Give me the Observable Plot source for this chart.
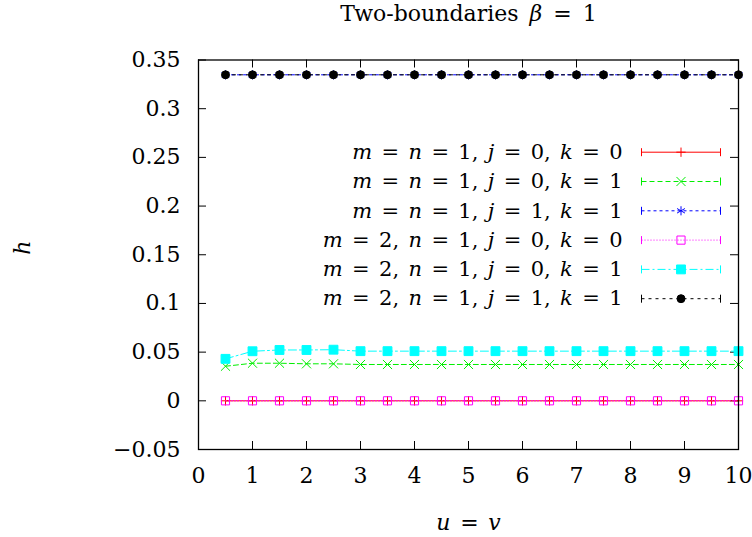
<!DOCTYPE html>
<html>
<head>
<meta charset="utf-8">
<script src="https://cdn.jsdelivr.net/npm/d3@7"></script>
<script src="https://cdn.jsdelivr.net/npm/@observablehq/plot@0.6"></script>
<style>
  html, body { margin: 0; padding: 0; background: #fff; }
  svg { display: block; }
</style>
</head>
<body>
<div id="chart"></div>
<script>
// ---------- data ----------
const uValues = [0.5, 1, 1.5, 2, 2.5, 3, 3.5, 4, 4.5, 5, 5.5, 6, 6.5, 7, 7.5, 8, 8.5, 9, 9.5, 10];
const hS1 = [0, 0, 0, 0, 0, 0, 0, 0, 0, 0, 0, 0, 0, 0, 0, 0, 0, 0, 0, 0];
const hS2 = [0.0355, 0.0386, 0.0386, 0.038, 0.038, 0.0373, 0.0373, 0.0373, 0.0373, 0.0373, 0.0373, 0.0373, 0.0373, 0.0373, 0.0373, 0.0373, 0.0373, 0.0373, 0.0373, 0.0373];
const hS3 = [0.3348, 0.3348, 0.3348, 0.3348, 0.3348, 0.3348, 0.3348, 0.3348, 0.3348, 0.3348, 0.3348, 0.3348, 0.3348, 0.3348, 0.3348, 0.3348, 0.3348, 0.3348, 0.3348, 0.3348];
const hS4 = [0, 0, 0, 0, 0, 0, 0, 0, 0, 0, 0, 0, 0, 0, 0, 0, 0, 0, 0, 0];
const hS5 = [0.0431, 0.0509, 0.0522, 0.0522, 0.0525, 0.051, 0.051, 0.051, 0.051, 0.051, 0.051, 0.051, 0.051, 0.051, 0.051, 0.051, 0.051, 0.051, 0.051, 0.051];
const hS6 = [0.3348, 0.3348, 0.3348, 0.3348, 0.3348, 0.3348, 0.3348, 0.3348, 0.3348, 0.3348, 0.3348, 0.3348, 0.3348, 0.3348, 0.3348, 0.3348, 0.3348, 0.3348, 0.3348, 0.3348];

const seriesNames = [
  "m = n = 1, j = 0, k = 0",
  "m = n = 1, j = 0, k = 1",
  "m = n = 1, j = 1, k = 1",
  "m = 2, n = 1, j = 0, k = 0",
  "m = 2, n = 1, j = 0, k = 1",
  "m = 2, n = 1, j = 1, k = 1"
];
const seriesValues = [hS1, hS2, hS3, hS4, hS5, hS6];

const xTicks = [0, 1, 2, 3, 4, 5, 6, 7, 8, 9, 10];
const xTickLabels = ["0", "1", "2", "3", "4", "5", "6", "7", "8", "9", "10"];
const yTicks = [-0.05, 0, 0.05, 0.1, 0.15, 0.2, 0.25, 0.3, 0.35];
const yTickLabels = ["\u22120.05", "0", "0.05", "0.1", "0.15", "0.2", "0.25", "0.3", "0.35"];

const titleText = "Two-boundaries \u03b2 = 1";
const xLabel = "u = v";
const yLabel = "h";

// ---------- styles ----------
const colors = ["#ff0000", "#00ee00", "#0000ff", "#ff00ff", "#00ffff", "#000000"];
const dashes = [null, "5,3", "3,3", "1,2", "8,3,2,3", "3,4"];
const symbols = ["plus", "times", "asterisk", "square", "square", "circle"];
const symFill = ["none", "none", "none", "none", "#00ffff", "#000000"];
const symR = [3.1, 4.2, 4.3, 4.6, 5.0, 4.0];

// ---------- layout ----------
const W = 752, H = 537;
const mL = 198, mR = 14, mT = 59.5, mB = 88;
const innerH = H - mT - mB;
const innerW = W - mL - mR;
const yDomain = [-0.05, 0.35];
const xDomain = [0, 10];
const pxPerY = innerH / (yDomain[1] - yDomain[0]);
const pxPerX = innerW / (xDomain[1] - xDomain[0]);
const tickLen = 8;
const font = "DejaVu Serif";

// legend layout (in data units derived from pixel layout)
const legTop = yDomain[1] - (151.7 - mT) / pxPerY;
const legStep = 29.3 / pxPerY;
const legX1 = (641 - mL) / pxPerX, legX2 = (720 - mL) / pxPerX, legXm = (680.5 - mL) / pxPerX, legXt = (622 - mL) / pxPerX;

const tickSymbol = { draw(ctx, size) { ctx.moveTo(0, -4); ctx.lineTo(0, 4); } };

const marks = [];
// inward ticks on all four sides
marks.push(Plot.tickX(xTicks, {x: d => d, insetTop: innerH - tickLen, stroke: "#000", strokeWidth: 1}));
marks.push(Plot.tickX(xTicks, {x: d => d, insetBottom: innerH - tickLen, stroke: "#000", strokeWidth: 1}));
marks.push(Plot.tickY(yTicks, {y: d => d, insetRight: innerW - tickLen, stroke: "#000", strokeWidth: 1}));
marks.push(Plot.tickY(yTicks, {y: d => d, insetLeft: innerW - tickLen, stroke: "#000", strokeWidth: 1}));

// tick labels
marks.push(Plot.text(xTicks, {x: d => d, frameAnchor: "bottom", lineAnchor: "middle", dy: 26, text: (d, i) => xTickLabels[i], fontSize: 22, fontFamily: font, fill: "#000"}));
marks.push(Plot.text(yTicks, {y: d => d, frameAnchor: "left", lineAnchor: "middle", dx: -18, textAnchor: "end", text: (d, i) => yTickLabels[i], fontSize: 22, fontFamily: font, fill: "#000"}));

// series
seriesValues.forEach((vals, s) => {
  const data = uValues.map((u, i) => ({u, h: vals[i]}));
  marks.push(Plot.line(data, {x: "u", y: "h", stroke: colors[s], strokeWidth: 1, strokeDasharray: dashes[s]}));
  marks.push(Plot.dot(data, {x: "u", y: "h", symbol: symbols[s], r: symR[s], stroke: colors[s], fill: symFill[s], strokeWidth: 1}));
});

// legend
seriesValues.forEach((vals, s) => {
  const ly = legTop - s * legStep;
  const row = [{name: seriesNames[s], y: ly}];
  marks.push(Plot.link(row, {x1: () => legX1, x2: () => legX2, y1: "y", y2: "y", stroke: colors[s], strokeWidth: 1, strokeDasharray: dashes[s]}));
  marks.push(Plot.dot([{x: legX1, y: ly}, {x: legX2, y: ly}], {x: "x", y: "y", symbol: tickSymbol, stroke: colors[s], fill: "none", strokeWidth: 1}));
  marks.push(Plot.dot(row, {x: () => legXm, y: "y", symbol: symbols[s], r: symR[s], stroke: colors[s], fill: symFill[s], strokeWidth: 1}));
  marks.push(Plot.text(row, {x: () => legXt, y: "y", text: "name", textAnchor: "end", fontSize: 21, fontFamily: font, fill: "#000", className: "math"}));
});

// frame
marks.push(Plot.frame({stroke: "#000", strokeWidth: 1.3}));

// title and axis labels
marks.push(Plot.text([titleText], {frameAnchor: "top", lineAnchor: "middle", dy: -46, text: d => d, fontSize: 22, fontFamily: font, fill: "#000", className: "math-title"}));
marks.push(Plot.text([xLabel], {frameAnchor: "bottom", lineAnchor: "middle", dy: 73, text: d => d, fontSize: 22, fontFamily: font, fill: "#000", className: "math"}));
marks.push(Plot.text([yLabel], {frameAnchor: "left", lineAnchor: "middle", dx: -176, rotate: -90, text: d => d, fontSize: 22, fontFamily: font, fill: "#000", className: "math"}));

const chart = Plot.plot({
  width: W,
  height: H,
  marginLeft: mL,
  marginRight: mR,
  marginTop: mT,
  marginBottom: mB,
  style: {background: "#fff", fontFamily: font},
  x: {domain: xDomain, axis: null},
  y: {domain: yDomain, axis: null},
  marks
});
document.getElementById("chart").appendChild(chart);

// math styling: letters italic, others upright
function mathify(el, onlyGreek, spacing) {
  const s = el.textContent;
  while (el.firstChild) el.removeChild(el.firstChild);
  const parts = s.match(/[A-Za-z\u0370-\u03ff]+|[^A-Za-z\u0370-\u03ff]+/g) || [];
  parts.forEach(p => {
    const t = document.createElementNS("http://www.w3.org/2000/svg", "tspan");
    const isLetter = /^[A-Za-z\u0370-\u03ff]+$/.test(p);
    const italic = onlyGreek ? /^[\u0370-\u03ff]+$/.test(p) : isLetter;
    if (italic) t.setAttribute("font-style", "italic");
    t.textContent = p;
    el.appendChild(t);
  });
  el.setAttribute("word-spacing", spacing);
}
d3.select(chart).selectAll("g.math text").each(function() { mathify(this, false, 2.7); });
d3.select(chart).selectAll("g.math-title text").each(function() { mathify(this, true, 4); });
</script>
</body>
</html>
